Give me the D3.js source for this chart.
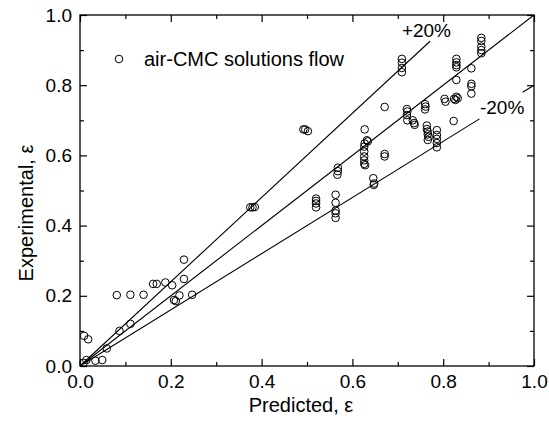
<!DOCTYPE html>
<html>
<head>
<meta charset="utf-8">
<script src="https://cdn.jsdelivr.net/npm/d3@7"></script>
<style>
  html, body { margin: 0; padding: 0; background: #fff; }
  svg { display: block; }
  text { font-family: "Liberation Sans", Arial, Helvetica, sans-serif; fill: #000; }
</style>
</head>
<body>
<svg id="chart" width="549" height="421"></svg>
<script>
// ---- data ----
const predicted = [
  0.009, 0.018, 0.008, 0.014, 0.034, 0.049, 0.059, 0.087, 0.111, 0.081, 0.111, 0.140,
  0.161, 0.169, 0.188, 0.203, 0.207, 0.211, 0.219, 0.229, 0.229, 0.247,
  0.375, 0.380, 0.385,
  0.492, 0.496, 0.502,
  0.520, 0.520, 0.520, 0.520,
  0.563, 0.563, 0.563, 0.563, 0.563,
  0.568, 0.568, 0.567,
  0.627, 0.632, 0.627, 0.626, 0.626, 0.626, 0.626, 0.626, 0.628, 0.634,
  0.646, 0.648, 0.647,
  0.671, 0.671,
  0.671,
  0.709, 0.709, 0.709, 0.709,
  0.720, 0.721, 0.720, 0.721, 0.733, 0.736, 0.737,
  0.760, 0.761, 0.760,
  0.764, 0.764, 0.766, 0.766, 0.768, 0.766,
  0.786, 0.786, 0.786, 0.786, 0.786,
  0.803, 0.805,
  0.824, 0.829, 0.832, 0.827,
  0.823,
  0.829, 0.829, 0.829, 0.829,
  0.829,
  0.862, 0.862, 0.862,
  0.862,
  0.884, 0.884, 0.884, 0.884, 0.884
];
const experimental = [
  0.086, 0.076, 0.009, 0.017, 0.015, 0.017, 0.050, 0.100, 0.120, 0.202, 0.203, 0.203,
  0.234, 0.234, 0.238, 0.230, 0.188, 0.185, 0.201, 0.248, 0.303, 0.203,
  0.452, 0.452, 0.453,
  0.674, 0.674, 0.669,
  0.477, 0.470, 0.463, 0.452,
  0.488, 0.465, 0.443, 0.435, 0.422,
  0.565, 0.555, 0.545,
  0.674, 0.643, 0.634, 0.625, 0.611, 0.597, 0.586, 0.576, 0.572, 0.640,
  0.535, 0.520, 0.516,
  0.604, 0.597,
  0.738,
  0.875, 0.864, 0.849, 0.837,
  0.732, 0.725, 0.715, 0.700, 0.700, 0.692, 0.687,
  0.746, 0.739, 0.731,
  0.685, 0.675, 0.668, 0.660, 0.653, 0.644,
  0.672, 0.658, 0.647, 0.635, 0.623,
  0.761, 0.753,
  0.761, 0.767, 0.763, 0.758,
  0.698,
  0.875, 0.865, 0.857, 0.851,
  0.815,
  0.804, 0.797, 0.776,
  0.848,
  0.935, 0.926, 0.910, 0.900, 0.891
];
const majorTicks = [0.0, 0.2, 0.4, 0.6, 0.8, 1.0];
const minorTicks = [0.1, 0.3, 0.5, 0.7, 0.9];
const tickLabels = ["0.0", "0.2", "0.4", "0.6", "0.8", "1.0"];
// reference lines: [slope, x-segments]
const refLines = [
  { slope: 1.0, segments: [[0, 1.0]] },
  { slope: 1.2, segments: [[0, 0.771]] },
  { slope: 0.8, segments: [[0, 0.88], [0.975, 1.0]] }
];
const lineLabels = [
  { text: "+20%", x: 0.709, y: 0.938 },
  { text: "-20%", x: 0.881, y: 0.718 }
];
const legendLabel = "air-CMC solutions flow";
const xTitle = "Predicted, \u03B5";
const yTitle = "Experimental, \u03B5";

// ---- layout ----
const L = 80, R = 534, T = 15, B = 366;
const svg = d3.select("#chart");
const x = d3.scaleLinear().domain([0, 1]).range([L, R]);
const y = d3.scaleLinear().domain([0, 1]).range([B, T]);

const fmt = (d) => tickLabels[majorTicks.indexOf(d)] ?? "";

function styleAxis(g) {
  g.select(".domain").remove();
  g.selectAll(".tick line").attr("stroke", "#000").attr("stroke-width", 1.2);
  g.selectAll(".tick text").style("font-size", "19px");
}

// bottom axis major
svg.append("g").attr("transform", `translate(0,${B})`)
  .call(d3.axisBottom(x).tickValues(majorTicks).tickFormat(fmt).tickSizeInner(-7).tickSizeOuter(0).tickPadding(9))
  .call(styleAxis);
svg.append("g").attr("transform", `translate(0,${B})`)
  .call(d3.axisBottom(x).tickValues(minorTicks).tickFormat("").tickSizeInner(-4).tickSizeOuter(0))
  .call(styleAxis);
// top axis
svg.append("g").attr("transform", `translate(0,${T})`)
  .call(d3.axisTop(x).tickValues(majorTicks).tickFormat("").tickSizeInner(-7).tickSizeOuter(0))
  .call(styleAxis);
svg.append("g").attr("transform", `translate(0,${T})`)
  .call(d3.axisTop(x).tickValues(minorTicks).tickFormat("").tickSizeInner(-4).tickSizeOuter(0))
  .call(styleAxis);
// left axis
svg.append("g").attr("transform", `translate(${L},0)`)
  .call(d3.axisLeft(y).tickValues(majorTicks).tickFormat(fmt).tickSizeInner(-7).tickSizeOuter(0).tickPadding(8))
  .call(styleAxis);
svg.append("g").attr("transform", `translate(${L},0)`)
  .call(d3.axisLeft(y).tickValues(minorTicks).tickFormat("").tickSizeInner(-4).tickSizeOuter(0))
  .call(styleAxis);
// right axis
svg.append("g").attr("transform", `translate(${R},0)`)
  .call(d3.axisRight(y).tickValues(majorTicks).tickFormat("").tickSizeInner(-7).tickSizeOuter(0))
  .call(styleAxis);
svg.append("g").attr("transform", `translate(${R},0)`)
  .call(d3.axisRight(y).tickValues(minorTicks).tickFormat("").tickSizeInner(-4).tickSizeOuter(0))
  .call(styleAxis);

// frame
svg.append("rect").attr("x", L).attr("y", T).attr("width", R - L).attr("height", B - T)
  .attr("fill", "none").attr("stroke", "#000").attr("stroke-width", 1.3);

// reference lines
refLines.forEach(rl => {
  rl.segments.forEach(([x0, x1]) => {
    svg.append("line")
      .attr("x1", x(x0)).attr("y1", y(rl.slope * x0))
      .attr("x2", x(x1)).attr("y2", y(rl.slope * x1))
      .attr("stroke", "#000").attr("stroke-width", 1.1);
  });
});

// line labels
lineLabels.forEach(lb => {
  svg.append("text").attr("x", x(lb.x)).attr("y", y(lb.y))
    .style("font-size", "19px").text(lb.text);
});

// points
svg.append("g").selectAll("circle")
  .data(predicted.map((p, i) => [p, experimental[i]]))
  .join("circle")
  .attr("cx", d => x(d[0])).attr("cy", d => y(d[1]))
  .attr("r", 3.8).attr("fill", "none").attr("stroke", "#000").attr("stroke-width", 1);

// legend
svg.append("circle").attr("cx", 119).attr("cy", 59).attr("r", 3.8)
  .attr("fill", "none").attr("stroke", "#000").attr("stroke-width", 1);
svg.append("text").attr("x", 144).attr("y", 66).style("font-size", "20px").text(legendLabel);

// axis titles
svg.append("text").attr("x", 301).attr("y", 412).attr("text-anchor", "middle")
  .style("font-size", "20px").text(xTitle);
svg.append("text").attr("transform", `translate(33,${213}) rotate(-90)`).attr("text-anchor", "middle")
  .style("font-size", "20px").text(yTitle);
</script>
</body>
</html>
